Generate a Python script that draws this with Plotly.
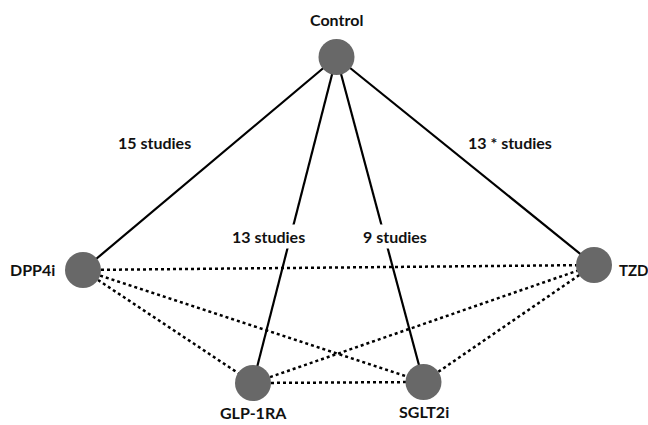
import plotly.graph_objects as go

# Network nodes
nodes = ["Control", "DPP4i", "TZD", "GLP-1RA", "SGLT2i"]
node_x = [336.5, 83, 594, 253, 423.5]
node_y = [57, 270, 265, 383, 382]

# Direct comparisons (solid) with number of studies
direct_edges = [("Control", "DPP4i"), ("Control", "GLP-1RA"), ("Control", "SGLT2i"), ("Control", "TZD")]
direct_labels = ["15 studies", "13 studies", "9 studies", "13 * studies"]
label_x = [154, 268, 395, 510]
label_y = [142, 236, 236, 142]

# Indirect comparisons (dotted)
indirect_edges = [("DPP4i", "TZD"), ("DPP4i", "GLP-1RA"), ("DPP4i", "SGLT2i"),
                  ("GLP-1RA", "TZD"), ("GLP-1RA", "SGLT2i"), ("SGLT2i", "TZD")]

pos = {n: (x, y) for n, x, y in zip(nodes, node_x, node_y)}

fig = go.Figure()

def edge_trace(edges, dash, width):
    xs, ys = [], []
    for a, b in edges:
        xs += [pos[a][0], pos[b][0], None]
        ys += [pos[a][1], pos[b][1], None]
    return go.Scatter(x=xs, y=ys, mode="lines",
                      line=dict(color="black", width=width, dash=dash),
                      hoverinfo="skip", showlegend=False)

fig.add_trace(edge_trace(indirect_edges, "dot", 2.5))
fig.add_trace(edge_trace(direct_edges, "solid", 2.2))

fig.add_trace(go.Scatter(x=node_x, y=node_y, mode="markers",
                         marker=dict(size=36, color="#686868", line=dict(width=0)),
                         hoverinfo="text", text=nodes, showlegend=False))

font = dict(family="Lato, Open Sans, sans-serif", size=16, color="#111111")

# Node labels
node_label_pos = {
    "Control": (336.5, 19, "center", 16),
    "DPP4i": (57, 269, "right", 16),
    "TZD": (617, 270, "left", 15),
    "GLP-1RA": (253, 412, "center", 16),
    "SGLT2i": (424, 411, "center", 16),
}
for n in nodes:
    x, y, al, fs = node_label_pos[n]
    fig.add_annotation(x=x, y=y, text=f"<b>{n}</b>", showarrow=False,
                       xanchor=al, yanchor="middle", font={**font, "size": fs})

for t, x, y in zip(direct_labels, label_x, label_y):
    fig.add_annotation(x=x, y=y, text=f"<b>{t}</b>", showarrow=False,
                       xanchor="center", yanchor="middle", font=font,
                       bgcolor="white", borderpad=2)

fig.update_layout(
    width=648, height=425,
    margin=dict(l=0, r=0, t=0, b=0),
    paper_bgcolor="white", plot_bgcolor="white",
    xaxis=dict(range=[0, 648], visible=False, fixedrange=True),
    yaxis=dict(range=[425, 0], visible=False, fixedrange=True),
)

# Remove the default page margin so the figure fills the window exactly
post = "document.body.style.margin='0';document.body.style.overflow='hidden';"
fig.write_html("out.html", post_script=post, config={"displayModeBar": False})
